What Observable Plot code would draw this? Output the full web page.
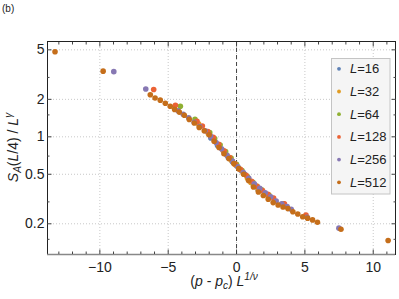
<!DOCTYPE html>
<html><head><meta charset="utf-8">
<script src="https://cdn.jsdelivr.net/npm/d3@7"></script>
<script src="https://cdn.jsdelivr.net/npm/@observablehq/plot@0.6"></script>
<style>
body{margin:0;background:#fff;}
#chart{width:399px;height:299px;}
</style></head><body><div id="chart"></div>
<script>
const sizes = [16, 32, 64, 128, 256, 512];
const colors = ["#5e81b5", "#e19c24", "#8fb032", "#eb6235", "#8778b3", "#c56e1a"];

const x16 = [-1.88, -1.39, -0.9, -0.6, -0.3, 0, 0.3, 0.6, 0.84, 1.09, 1.58];
const y16 = [0.98, 0.85, 0.75, 0.68, 0.63, 0.585, 0.54, 0.5, 0.465, 0.43, 0.375];

const x32 = [-2.78, -2.06, -1.32, -1.0, -0.7, -0.4, -0.1, 0.2, 0.5, 0.8, 1.05, 1.24, 1.6, 2.33];
const y32 = [1.27, 1.06, 0.86, 0.78, 0.71, 0.65, 0.6, 0.555, 0.51, 0.465, 0.43, 0.405, 0.37, 0.325];

const x64 = [-4.11, -3.04, -1.96, -1.6, -1.2, -0.8, -0.4, 0, 0.4, 0.8, 1.2, 1.5, 1.84, 2.37, 3.44];
const y64 = [1.76, 1.38, 1.08, 0.97, 0.86, 0.76, 0.675, 0.6, 0.535, 0.48, 0.43, 0.4, 0.375, 0.34, 0.29];

const x128 = [-6.06, -4.47, -2.89, -2.5, -2.1, -1.7, -1.3, -0.9, -0.5, -0.1, 0.3, 0.7, 1.1, 1.5, 1.9, 2.3, 2.71, 3.5, 5.08];
const y128 = [2.40, 1.79, 1.33, 1.22, 1.1, 0.99, 0.87, 0.77, 0.68, 0.605, 0.545, 0.49, 0.44, 0.4, 0.37, 0.345, 0.322, 0.29, 0.235];

const x256 = [-8.98, -6.64, -4.27, -3.9, -3.5, -3.1, -2.7, -2.3, -1.9, -1.5, -1.1, -0.7, -0.3, 0.1, 0.5, 0.9, 1.3, 1.7, 2.1, 2.5, 2.9, 3.3, 3.7, 4.0, 5.17, 7.49];
const y256 = [3.34, 2.42, 1.62, 1.52, 1.42, 1.31, 1.21, 1.12, 1.01, 0.9, 0.8, 0.71, 0.64, 0.575, 0.515, 0.465, 0.42, 0.385, 0.355, 0.33, 0.305, 0.29, 0.275, 0.262, 0.225, 0.1845];

const x512 = [-13.28, -9.76, -6.31, -5.96, -5.58, -5.21, -4.85, -4.53, -4.19, -3.82, -3.46, -3.09, -2.73, -2.36, -2.0, -1.64, -1.28, -0.92, -0.56, -0.2, 0.16, 0.52, 0.88, 1.24, 1.6, 1.96, 2.32, 2.68, 3.04, 3.4, 3.76, 4.12, 4.48, 4.84, 5.2, 5.56, 5.92, 7.64, 11.09];
const y512 = [4.82, 3.37, 2.18, 2.05, 1.97, 1.86, 1.76, 1.66, 1.58, 1.49, 1.38, 1.29, 1.19, 1.12, 1.04, 0.92, 0.82, 0.73, 0.67, 0.61, 0.555, 0.50, 0.445, 0.395, 0.36, 0.338, 0.315, 0.296, 0.283, 0.273, 0.265, 0.25, 0.24, 0.228, 0.222, 0.215, 0.206, 0.181, 0.147];

const xTicks = [-10, -5, 0, 5, 10];
const xMinor = [-13, -12, -11, -9, -8, -7, -6, -4, -3, -2, -1, 1, 2, 3, 4, 6, 7, 8, 9, 11];
const yTicks = [0.2, 0.5, 1, 2, 5];
const yMinor = [0.15, 0.3, 0.7, 1.5, 3];
const xDomain = [-13.83, 11.63];
const yDomain = [0.1133, 5.834];

const xs = [x16, x32, x64, x128, x256, x512];
const ys = [y16, y32, y64, y128, y256, y512];
const rows = [];
sizes.forEach((L, i) => xs[i].forEach((x, j) => rows.push({L, x, y: ys[i][j]})));

const fmt = d => d < 0 ? "\u2212" + (-d) : String(d);
const none = () => "";

const chart = Plot.plot({
  width: 399, height: 299,
  marginLeft: 47, marginRight: 4, marginTop: 41, marginBottom: 45,
  style: {background: "white", color: "#222", fontFamily: "'Liberation Sans', Arial, sans-serif", fontSize: "14px"},
  x: {domain: xDomain, label: null},
  y: {type: "log", domain: yDomain, label: null},
  color: {domain: sizes, range: colors},
  marks: [
    Plot.gridX(xTicks, {stroke: "#c8c8c8", strokeOpacity: 1, strokeDasharray: "1,2"}),
    Plot.gridY(yTicks, {stroke: "#c8c8c8", strokeOpacity: 1, strokeDasharray: "1,2"}),
    Plot.ruleX([0], {stroke: "#444", strokeDasharray: "4,3", strokeWidth: 1}),
    Plot.dot(rows, {x: "x", y: "y", fill: "L", r: 2.8, stroke: null}),
    Plot.frame({stroke: "#222"}),
    Plot.ruleY([yDomain[0]], {stroke: "#888", strokeWidth: 1.5}),
    Plot.axisX(xTicks, {anchor: "bottom", tickSize: 0, tickPadding: 8, tickFormat: fmt}),
    Plot.axisX(xTicks, {anchor: "bottom", tickSize: -4.5, tickFormat: none, stroke: "#444"}),
    Plot.axisX(xMinor, {anchor: "bottom", tickSize: -2.5, tickFormat: none, stroke: "#444"}),
    Plot.axisX(xTicks, {anchor: "top", tickSize: -4.5, tickFormat: none, stroke: "#444"}),
    Plot.axisX(xMinor, {anchor: "top", tickSize: -2.5, tickFormat: none, stroke: "#444"}),
    Plot.text(yTicks, {y: d => d, frameAnchor: "left", dx: -3, textAnchor: "end", text: d => String(d), fill: "#222", fontSize: 14}),
    Plot.axisY(yTicks, {anchor: "left", tickSize: -4.5, tickFormat: none, stroke: "#444"}),
    Plot.axisY(yMinor, {anchor: "left", tickSize: -2.5, tickFormat: none, stroke: "#444"}),
    Plot.axisY(yTicks, {anchor: "right", tickSize: -4.5, tickFormat: none, stroke: "#444"}),
    Plot.axisY(yMinor, {anchor: "right", tickSize: -2.5, tickFormat: none, stroke: "#444"})
  ]
});
document.getElementById("chart").appendChild(chart);

const svg = d3.select(chart);
svg.append("text").attr("x", 2).attr("y", 12).attr("text-anchor", "start").attr("font-size", 10).attr("fill", "#222").text("(b)");

// x label
const xl = svg.append("text").attr("x", 224).attr("y", 286).attr("text-anchor", "middle").attr("fill", "#222").attr("font-size", 14);
xl.append("tspan").text("(");
xl.append("tspan").attr("font-style", "italic").text("p");
xl.append("tspan").text(" - ");
xl.append("tspan").attr("font-style", "italic").text("p");
xl.append("tspan").attr("font-style", "italic").attr("font-size", 10).attr("dy", 3).text("c");
xl.append("tspan").attr("dy", -3).text(") ");
xl.append("tspan").attr("font-style", "italic").text("L");
xl.append("tspan").attr("font-style", "italic").attr("font-size", 10).attr("dy", -6).text("1/\u03bd");

// y label
const yl = svg.append("text").attr("transform", "translate(18,147.5) rotate(-90)").attr("text-anchor", "middle").attr("fill", "#222").attr("font-size", 14);
yl.append("tspan").attr("font-style", "italic").text("S");
yl.append("tspan").attr("font-style", "italic").attr("font-size", 10).attr("dy", 3).text("A");
yl.append("tspan").attr("dy", -3).text("(");
yl.append("tspan").attr("font-style", "italic").text("L");
yl.append("tspan").text("/4) / ");
yl.append("tspan").attr("font-style", "italic").text("L");
yl.append("tspan").attr("font-style", "italic").attr("font-size", 10).attr("dy", -6).text("\u03b3");

// legend
const lg = svg.append("g").attr("text-anchor", "start");
lg.append("rect").attr("x", 331.5).attr("y", 58.5).attr("width", 58.5).attr("height", 135.5)
  .attr("fill", "#f5f5f5").attr("stroke", "#c4c4c4");
sizes.forEach((L, i) => {
  const yb = 73.3 + i * 22.7;
  lg.append("circle").attr("cx", 339).attr("cy", yb - 4.5).attr("r", 1.9).attr("fill", colors[i]);
  const t = lg.append("text").attr("x", 350).attr("y", yb).attr("text-anchor", "start").attr("font-size", 13).attr("fill", "#222");
  t.append("tspan").attr("font-style", "italic").text("L");
  t.append("tspan").text("=" + L);
});
</script>
</body></html>
